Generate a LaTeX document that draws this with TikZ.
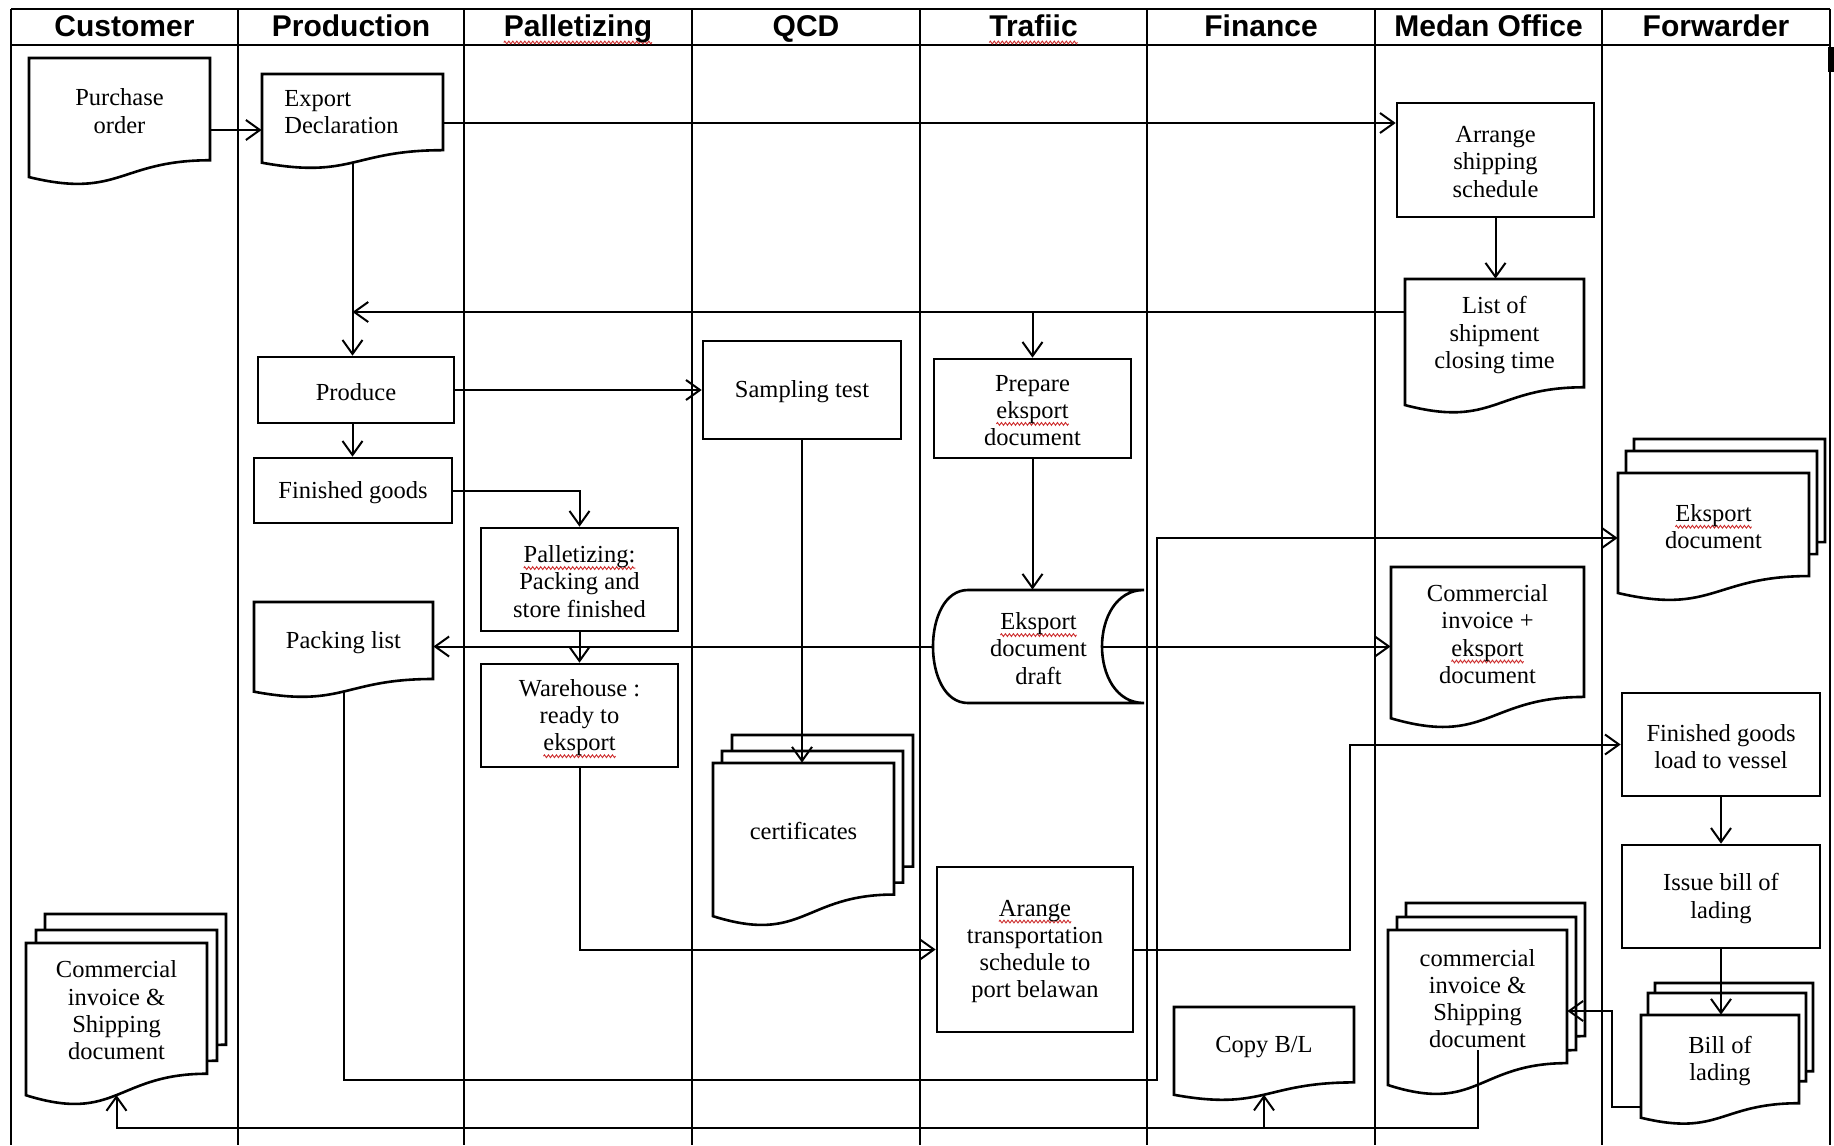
\documentclass[tikz,border=0pt]{standalone}
\usepackage{fontspec}
\setmainfont{Liberation Serif}
\newfontfamily\headfamily{Liberation Sans}
\usetikzlibrary{arrows.meta,fit,decorations.pathmorphing}

\definecolor{spellred}{RGB}{205,45,45}
\newlength\spellw
% word with a red wavy underline
\newcommand\spell[1]{\leavevmode\settowidth\spellw{#1}\rlap{\tikz[overlay,baseline=0pt]\draw[spellred,line width=0.45pt,fill=none,decorate,decoration={zigzag,amplitude=0.7pt,segment length=2pt}] (0pt,-2.75pt) -- (\spellw,-2.75pt);}#1}
\newcommand\bodyfont{\fontsize{12.25pt}{13.65pt}\selectfont}
\newcommand\headfont{\headfamily\bfseries\fontsize{15pt}{18pt}\selectfont}

\tikzset{
  lane/.style={line width=1pt},
  shapeline/.style={draw,line width=1.3pt,fill=white},
  procbox/.style={draw,line width=1.3pt,fill=white,inner sep=0pt},
  docarea/.style={inner sep=0pt},
  bodytext/.style={inner sep=0pt,align=center,font=\bodyfont},
  arr/.style={line width=1pt,-{Straight Barb[length=7pt,width=10pt]}},
  head/.style={font=\headfont,anchor=base,inner sep=0pt},
}

% one sheet of a document symbol: left, top, width, height
\newcommand\sheet[4]{\path[shapeline] (#1,#2) -- ({#1+#3},#2) -- ({#1+#3},{#2+0.802*#4})
  .. controls ({#1+0.5*#3},{#2+0.802*#4}) and ({#1+0.5*#3},{#2+1.1075*#4}) .. (#1,{#2+0.934*#4}) -- cycle;}
% document symbol with its text: name, left, top, width, height, text
\newcommand\docnode[6]{\sheet{#2}{#3}{#4}{#5}%
  \node[docarea,fit={(#2,#3) ({#2+#4},{#3+0.802*#5})}] (#1) {};%
  \node[bodytext] (#1-t) at ([yshift=-1pt]#1.center) {#6};%
  \coordinate (#1-w) at ({#2+0.5*#4},{#3+0.933*#5});}
% process box: name, left, top, right, bottom, text
\newcommand\procnode[6]{\node[procbox,fit={(#2,#3) (#4,#5)}] (#1) {};%
  \node[bodytext] (#1-t) at ([yshift=-1pt]#1.center) {#6};}

\begin{document}
\begin{tikzpicture}[x=0.5pt,y=-0.5pt]
\useasboundingbox[fill=white] (0,0) rectangle (1834,1145);

% swimlanes
\draw[lane] (11,9.5) -- (1830,9.5);
\draw[lane] (11,45) -- (1830,45);
\foreach \x in {11,238,464,692,920,1147,1375,1602,1830}
  \draw[lane] (\x,9.5) -- (\x,1145);
\fill (1828,47) rectangle (1834,72);

\node[head] (hcust) at (124.5,37) {Customer};
\node[head] (hprod) at (351,37) {Production};
\node[head] (hpal)  at (578,37) {\spell{Palletizing}};
\node[head] (hqcd)  at (806,37) {QCD};
\node[head] (htraf) at (1033.5,37) {\spell{Trafiic}};
\node[head] (hfin)  at (1261,37) {Finance};
\node[head] (hmed)  at (1488.5,37) {Medan Office};
\node[head] (hfwd)  at (1716,37) {Forwarder};

% Customer
\docnode{po}{29}{58}{181}{127.5}{Purchase\\order}
\sheet{45}{914}{181}{163}\sheet{36}{930}{181}{163}
\docnode{cust}{26}{943}{181}{163}{Commercial\\invoice \&\\Shipping\\document}

% Production
\sheet{262}{74}{181}{95}
\node[docarea,fit={(262,74) (443,150.2)}] (ed) {};
\node[bodytext,align=left,anchor=west] (ed-t) at (284,112) {Export\\Declaration};
\coordinate (ed-w) at (352.5,162.6);
\procnode{produce}{258}{357}{454}{423}{Produce}
\procnode{fg}{254}{458}{452}{523}{Finished goods}
\docnode{pl}{254}{602}{179}{96}{Packing list}

% Palletizing
\procnode{pal}{481}{528}{678}{631}{\spell{Palletizing:}\\Packing and\\store finished}
\procnode{wh}{481}{664}{678}{767}{Warehouse :\\ready to\\\spell{eksport}}

% QCD
\procnode{samp}{703}{341}{901}{439}{Sampling test}
\sheet{732}{735}{181}{164}\sheet{722}{751}{181}{164}
\docnode{cert}{713}{763}{181}{164}{certificates}

% Traffic
\procnode{prep}{934}{359}{1131}{458}{Prepare\\\spell{eksport}\\document}
\path[shapeline] (968,590) -- (1144,590) .. controls (1088,590) and (1088,703) .. (1144,703)
  -- (968,703) .. controls (921.3,703) and (921.3,590) .. (968,590) -- cycle;
\node[docarea,fit={(933,590) (1144,703)}] (draft) {};
\node[bodytext] (draft-t) at ([yshift=-1pt]draft.center) {\spell{Eksport}\\document\\draft};
\procnode{at}{937}{867}{1133}{1032}{\spell{Arange}\\transportation\\schedule to\\port belawan}

% Finance
\docnode{cbl}{1174}{1007}{180}{94}{Copy B/L}

% Medan Office
\procnode{asch}{1397}{103}{1594}{217}{Arrange\\shipping\\schedule}
\docnode{list}{1405}{279}{179}{135}{List of\\shipment\\closing time}
\docnode{ci}{1391}{567}{193}{162}{Commercial\\invoice +\\\spell{eksport}\\document}
\sheet{1406}{903}{179}{166}\sheet{1397}{917}{179}{166}
\docnode{mcs}{1388}{930}{179}{166}{commercial\\invoice \&\\Shipping\\document}

% Forwarder
\sheet{1634}{439}{191}{128.5}\sheet{1626}{451}{191}{128.5}
\docnode{efw}{1618}{473}{191}{128.5}{\spell{Eksport}\\document}
\procnode{fgl}{1622}{693}{1820}{796}{Finished goods\\load to vessel}
\procnode{ib}{1622}{845}{1820}{948}{Issue bill of\\lading}
\sheet{1655}{983}{158}{110}\sheet{1648}{993}{158}{110}
\docnode{bol}{1641}{1015}{158}{110}{Bill of\\lading}

% routing points
\coordinate (poLine) at (0,130);
\coordinate (edLine) at (0,123);
\coordinate (listLine) at (0,312);
\coordinate (draftIn) at (1102,646.5);
\coordinate (plBend) at (1157,1080);
\coordinate (efwLine) at (0,538);
\coordinate (atBend) at (1350,0);
\coordinate (bolBend) at (1612,1107);
\coordinate (mcsIn) at (0,1011);
\coordinate (mcsOut) at (1478,1050);
\coordinate (botLine) at (0,1128);

% connectors
\draw[arr] (po.east |- poLine) -- (ed.west |- poLine);
\draw[arr] (ed.east |- edLine) -- (asch.west |- edLine);
\draw[arr] (ed-w) -- (ed-w |- produce.north);
\draw[arr] (asch.south) -- (asch.south |- list.north);
\draw[arr] (list.west |- listLine) -- (ed-w |- listLine);
\draw[arr] (prep.north |- listLine) -- (prep.north);
\draw[arr] (produce.east) -- (samp.west |- produce.east);
\draw[arr] (produce.south -| ed-w) -- (fg.north -| ed-w);
\draw[arr] (fg.east) -| (pal.north);
\draw[arr] (pal.south) -- (wh.north);
\draw[arr] (samp.south) -- (samp.south |- cert.north);
\draw[arr] (prep.south) -- (prep.south |- draft.north);
\draw[arr] (draft.west) -- (pl.east |- draft.west);
\draw[arr] (draftIn) -- (ci.west |- draftIn);
\draw[arr] (pl-w) -- (pl-w |- plBend) -- (plBend) -- (plBend |- efwLine) -- (efw.west |- efwLine);
\draw[arr] (wh.south) |- (at.west);
\draw[arr] (at.east) -- (at.east -| atBend) -- (atBend |- fgl.west) -- (fgl.west);
\draw[arr] (fgl.south) -- (ib.north);
\draw[arr] (ib.south) -- (ib.south |- bol.north);
\draw[arr] (bol.west |- bolBend) -- (bolBend) -- (bolBend |- mcsIn) -- (mcs.east |- mcsIn);
\draw[arr] (mcsOut) -- (mcsOut |- botLine) -- (cust-w |- botLine) -- (cust-w);
\draw[arr] (cbl-w |- botLine) -- (cbl-w);
\end{tikzpicture}
\end{document}
